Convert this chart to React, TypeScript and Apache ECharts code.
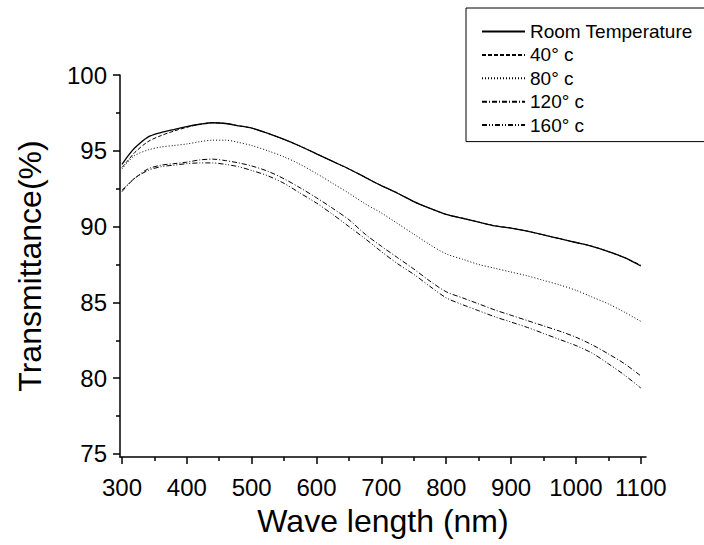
import React, { useEffect, useRef } from "react";
import * as echarts from "echarts";

const wavelength = [300, 310, 320, 340, 360, 380, 400, 420, 440, 460, 480, 500, 525, 550, 575, 600, 625, 650, 675, 700, 725, 750, 775, 800, 825, 850, 875, 900, 925, 950, 975, 1000, 1025, 1050, 1075, 1100];

const roomTemp = [94.1, 94.7, 95.2, 95.9, 96.2, 96.4, 96.6, 96.75, 96.85, 96.8, 96.65, 96.5, 96.15, 95.75, 95.3, 94.8, 94.3, 93.8, 93.25, 92.7, 92.2, 91.65, 91.2, 90.8, 90.55, 90.3, 90.05, 89.9, 89.7, 89.45, 89.2, 88.95, 88.7, 88.35, 87.95, 87.4];
const temp40 = [93.9, 94.4, 94.9, 95.6, 96.0, 96.3, 96.55, 96.75, 96.85, 96.8, 96.65, 96.5, 96.15, 95.75, 95.3, 94.8, 94.3, 93.8, 93.25, 92.7, 92.2, 91.65, 91.2, 90.8, 90.55, 90.3, 90.05, 89.9, 89.7, 89.45, 89.2, 88.95, 88.7, 88.35, 87.95, 87.45];
const temp80 = [93.8, 94.3, 94.7, 95.05, 95.25, 95.35, 95.45, 95.6, 95.7, 95.7, 95.55, 95.35, 95.0, 94.6, 94.1, 93.5, 92.85, 92.2, 91.5, 90.9, 90.2, 89.5, 88.8, 88.2, 87.85, 87.5, 87.25, 87.0, 86.75, 86.45, 86.15, 85.8, 85.35, 84.9, 84.35, 83.75];
const temp120 = [92.3, 92.8, 93.2, 93.8, 94.05, 94.15, 94.25, 94.4, 94.45, 94.35, 94.2, 94.0, 93.65, 93.15, 92.55, 91.9, 91.2, 90.45, 89.5, 88.7, 87.95, 87.2, 86.4, 85.7, 85.3, 84.9, 84.5, 84.15, 83.8, 83.45, 83.1, 82.7, 82.2, 81.6, 80.95, 80.15];
const temp160 = [92.4, 92.8, 93.2, 93.7, 93.95, 94.05, 94.15, 94.2, 94.2, 94.1, 93.95, 93.7, 93.35, 92.85, 92.2, 91.55, 90.8, 90.0, 89.2, 88.35, 87.55, 86.85, 86.05, 85.3, 84.85, 84.45, 84.05, 83.7, 83.35, 82.95, 82.55, 82.15, 81.65, 80.95, 80.2, 79.35];

const seriesNames = ["Room Temperature", "40\u00B0 c", "80\u00B0 c", "120\u00B0 c", "160\u00B0 c"];
const xMajorTicks = [300, 400, 500, 600, 700, 800, 900, 1000, 1100];
const xMinorTicks = [350, 450, 550, 650, 750, 850, 950, 1050];
const yMajorTicks = [75, 80, 85, 90, 95, 100];
const yMinorTicks = [77.5, 82.5, 87.5, 92.5, 97.5];

const FONT = "'Liberation Sans', Arial, sans-serif";

export default function App() {
  const ref = useRef<HTMLDivElement>(null);
  useEffect(() => {
    if (!ref.current) return;
    const chart = echarts.init(ref.current, null, { renderer: "svg" });
    const allData = [roomTemp, temp40, temp80, temp120, temp160];
    const dashes: any[] = ["solid", [4, 2], [1, 2], [5, 2, 1, 2], [5, 2, 1, 2, 1, 2]];
    const widths = [1.3, 1, 1, 1, 1];
    const series = allData.map((arr, i) => ({
      name: seriesNames[i],
      type: "line",
      xAxisIndex: 0,
      yAxisIndex: 0,
      showSymbol: false,
      symbol: "none",
      smooth: 0.3,
      data: wavelength.map((w, j) => [w, arr[j]]),
      lineStyle: { color: "#000", width: widths[i], type: dashes[i] },
      itemStyle: { color: "#000" },
    }));
    const xBase = {
      type: "value",
      min: 297,
      max: 1108,
      splitLine: { show: false },
    };
    const yBase = {
      type: "value",
      min: 74.8,
      max: 100,
      splitLine: { show: false },
    };
    const plain = (v: number) => String(v);
    chart.setOption({
      animation: false,
      backgroundColor: "#fff",
      grid: { left: 120, right: 58, top: 75, bottom: 88, containLabel: false },
      legend: {
        orient: "vertical",
        left: 466,
        top: 8,
        borderColor: "#000",
        borderWidth: 1,
        borderRadius: 0,
        padding: [14, 30, 7, 15],
        itemGap: 4.4,
        itemWidth: 43,
        itemHeight: 14,
        itemStyle: { color: "transparent", borderColor: "transparent", borderWidth: 0, opacity: 0 },
        textStyle: { fontSize: 19, color: "#000", fontFamily: FONT },
        data: seriesNames,
      },
      xAxis: [
        {
          ...xBase,
          position: "bottom",
          name: "Wave length (nm)",
          nameLocation: "middle",
          nameGap: 48,
          nameTextStyle: { fontSize: 32, color: "#000", fontFamily: FONT },
          axisLine: { show: true, onZero: false, lineStyle: { color: "#000", width: 1.5 } },
          axisTick: { show: true, customValues: xMajorTicks, length: 7, lineStyle: { color: "#000", width: 1.5 } },
          axisLabel: { customValues: xMajorTicks, formatter: plain, margin: 18, fontSize: 24, color: "#000", fontFamily: FONT },
        },
        {
          ...xBase,
          position: "bottom",
          axisLine: { show: false, onZero: false },
          axisTick: { show: true, customValues: xMinorTicks, length: 4, lineStyle: { color: "#000", width: 1.5 } },
          axisLabel: { show: false },
        },
      ],
      yAxis: [
        {
          ...yBase,
          position: "left",
          name: "Transmittance(%)",
          nameLocation: "middle",
          nameGap: 74,
          nameTextStyle: { fontSize: 32, color: "#000", fontFamily: FONT },
          axisLine: { show: true, onZero: false, lineStyle: { color: "#000", width: 1.5 } },
          axisTick: { show: true, customValues: yMajorTicks, length: 7, lineStyle: { color: "#000", width: 1.5 } },
          axisLabel: { customValues: yMajorTicks, formatter: plain, margin: 13, fontSize: 24, color: "#000", fontFamily: FONT },
        },
        {
          ...yBase,
          position: "left",
          axisLine: { show: false, onZero: false },
          axisTick: { show: true, customValues: yMinorTicks, length: 4, lineStyle: { color: "#000", width: 1.5 } },
          axisLabel: { show: false },
        },
      ],
      series,
    });
    return () => chart.dispose();
  }, []);
  return <div ref={ref} style={{ position: "absolute", left: 0, top: 0, width: 704, height: 545 }} />;
}
